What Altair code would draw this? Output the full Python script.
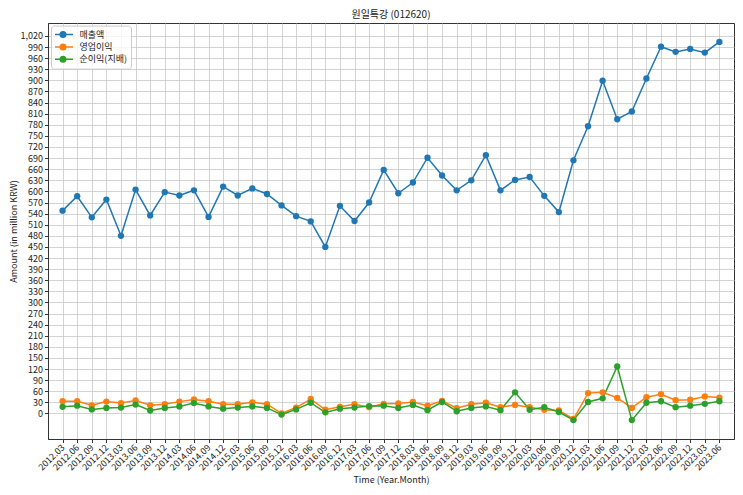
import altair as alt
import pandas as pd

quarters = [
    "2012.03", "2012.06", "2012.09", "2012.12",
    "2013.03", "2013.06", "2013.09", "2013.12",
    "2014.03", "2014.06", "2014.09", "2014.12",
    "2015.03", "2015.06", "2015.09", "2015.12",
    "2016.03", "2016.06", "2016.09", "2016.12",
    "2017.03", "2017.06", "2017.09", "2017.12",
    "2018.03", "2018.06", "2018.09", "2018.12",
    "2019.03", "2019.06", "2019.09", "2019.12",
    "2020.03", "2020.06", "2020.09", "2020.12",
    "2021.03", "2021.06", "2021.09", "2021.12",
    "2022.03", "2022.06", "2022.09", "2022.12",
    "2023.03", "2023.06",
]
sales = [548, 587, 530, 578, 480, 605, 535, 598, 589, 603,
         531, 613, 589, 608, 593, 562, 533, 519, 450, 561,
         520, 570, 658, 595, 624, 691, 643, 603, 630, 698,
         603, 631, 639, 588, 544, 684, 776, 899, 795, 816,
         905, 991, 977, 985, 975, 1004]
op_income = [33, 33, 22, 32, 28, 35, 22, 25, 32, 38,
             33, 25, 25, 30, 25, 0, 16, 39, 10, 18,
             25, 17, 26, 27, 31, 21, 34, 14, 25, 29,
             17, 23, 17, 10, 8, -15, 55, 57, 42, 15,
             44, 52, 36, 37, 46, 43]
net_income = [18, 21, 11, 15, 16, 24, 8, 15, 19, 28,
              19, 13, 16, 19, 15, -3, 11, 29, 3, 13,
              16, 20, 21, 15, 23, 9, 31, 6, 15, 19,
              9, 57, 10, 17, 4, -18, 31, 41, 127, -18,
              29, 33, 17, 21, 26, 33]
series_names = ["매출액", "영업이익", "순이익(지배)"]
series_colors = ["#1f77b4", "#ff7f0e", "#2ca02c"]
y_ticks = list(range(0, 1021, 30))

rows = []
for name, vals in zip(series_names, [sales, op_income, net_income]):
    for i, (q, v) in enumerate(zip(quarters, vals)):
        rows.append({"quarter": q, "series": name, "value": v, "i": i})
df = pd.DataFrame(rows)

FONT = "Noto Sans CJK KR"
TXT = "#222222"
# line from -8px to +12px around the symbol centre, circle (r ~2.75px) at +2px (scale 5px/unit)
legend_path = "M-1.6,0L2.4,0M0.95,0A0.55,0.55,0,1,1,-0.15,0A0.55,0.55,0,1,1,0.95,0Z"

base = alt.Chart(df).encode(
    x=alt.X(
        "quarter:O",
        sort=quarters,
        scale=alt.Scale(type="point", padding=2.2),
        axis=alt.Axis(
            title="Time (Year.Month)",
            labelAngle=-45,
            labelAlign="right",
            labelBaseline="middle",
            labelPadding=3,
            grid=True,
            titlePadding=4,
        ),
    ),
    y=alt.Y(
        "value:Q",
        scale=alt.Scale(domain=[-69, 1055], nice=False, zero=False),
        axis=alt.Axis(
            values=y_ticks,
            format=",d",
            title="Amount (in million KRW)",
            grid=True,
            titlePadding=2,
        ),
    ),
    color=alt.Color(
        "series:N",
        sort=series_names,
        scale=alt.Scale(domain=series_names, range=series_colors),
        legend=alt.Legend(
            title=None,
            orient="none",
            legendX=3,
            legendY=2.6,
            symbolType=legend_path,
            symbolSize=100,
            symbolStrokeWidth=1.5,
            clipHeight=10,
            labelFontSize=9,
            labelFont=FONT,
            labelColor=TXT,
            labelOffset=12.5,
            rowPadding=2.3,
            padding=4,
            strokeColor="#cccccc",
            fillColor="rgba(255,255,255,0.8)",
            cornerRadius=3,
        ),
    ),
    order=alt.Order("i:Q"),
)

lines = base.mark_line(strokeWidth=1.5)
points = base.mark_point(filled=True, size=40, opacity=1)

chart = (
    alt.layer(lines, points)
    .properties(
        width=686,
        height=416,
        autosize=alt.AutoSizeParams(type="none"),
        padding={"left": 40, "top": 15, "right": 1, "bottom": 48},
        title=alt.TitleParams(
            "원일특강 (012620)", font=FONT, fontSize=10, fontWeight="normal",
            color=TXT, offset=3,
        ),
    )
    .configure_view(stroke="#333333", strokeWidth=1)
    .configure_axis(
        labelFont=FONT,
        labelFontSize=9,
        labelColor=TXT,
        titleFont=FONT,
        titleFontSize=9,
        titleFontWeight="normal",
        titleColor=TXT,
        gridColor="#c8c8c8",
        gridWidth=0.8,
        domainColor="#333333",
        tickColor="#333333",
        tickSize=3.5,
    )
)

chart.save("out.html", embed_options={"renderer": "svg", "actions": False})
